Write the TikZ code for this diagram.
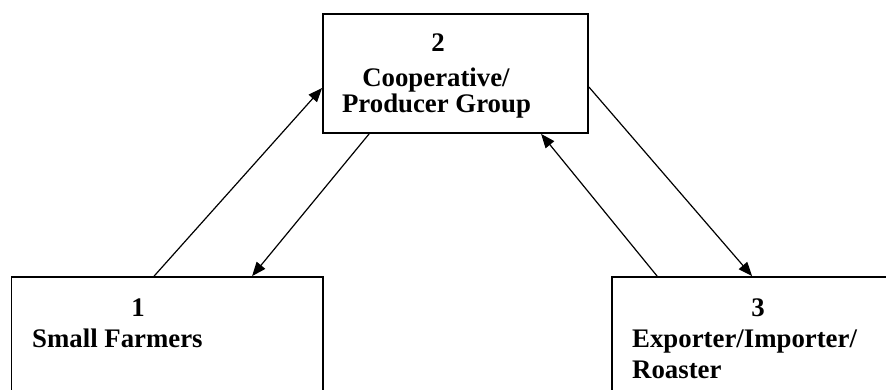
\documentclass[tikz,border=0pt]{standalone}
\usepackage{fontspec}
\setmainfont{Liberation Serif}
\usetikzlibrary{arrows.meta}
\begin{document}
\begin{tikzpicture}[x=1pt, y=-1pt,
    party/.style ={rectangle, draw, line width=1.8pt, inner sep=0pt},
    label/.style ={inner sep=0pt, font=\fontsize{26.8}{26}\selectfont\bfseries},
    flow/.style ={line width=1.2pt, -{Triangle[length=14pt,width=11pt]}}]
   \useasboundingbox (0,0) rectangle (886,390);
   \clip (0,0) rectangle (886,390);
   % the three parties
   \node[party, minimum width=265pt, minimum height=119pt] (coop) at (455.5,73.5) {};
   \node[party, minimum width=311.5pt, minimum height=153pt] (farmers) at (167.25,353.5) {};
   \node[party, minimum width=318pt, minimum height=153pt] (roaster) at (771,353.5) {};
   % texts
   \node[label, anchor=base] (coopnum) at (438,52) {2};
   \node[label, anchor=base] (coopa) at (436,87) {Cooperative/};
   \node[label, anchor=base] (coopb) at (436.5,113) {Producer Group};
   \node[label, anchor=base] (farmnum) at (138,316) {1};
   \node[label, anchor=base west] (farmname) at (32,347) {Small Farmers};
   \node[label, anchor=base] (roastnum) at (758,316) {3};
   \node[label, anchor=base west] (roasta) at (632,347) {Exporter/Importer/};
   \node[label, anchor=base west] (roastb) at (632,378) {Roaster};
   % flows
   \draw[flow] ([xshift=143.5pt]farmers.north west) to ([yshift=-14.5pt]coop.west);
   \draw[flow] ([xshift=47pt]coop.south west) to ([xshift=241.5pt]farmers.north west);
   \draw[flow] ([xshift=46pt]roaster.north west) to ([xshift=219pt]coop.south west);
   \draw[flow] ([yshift=-13.5pt]coop.east) to ([xshift=141pt]roaster.north west);
\end{tikzpicture}
\end{document}
